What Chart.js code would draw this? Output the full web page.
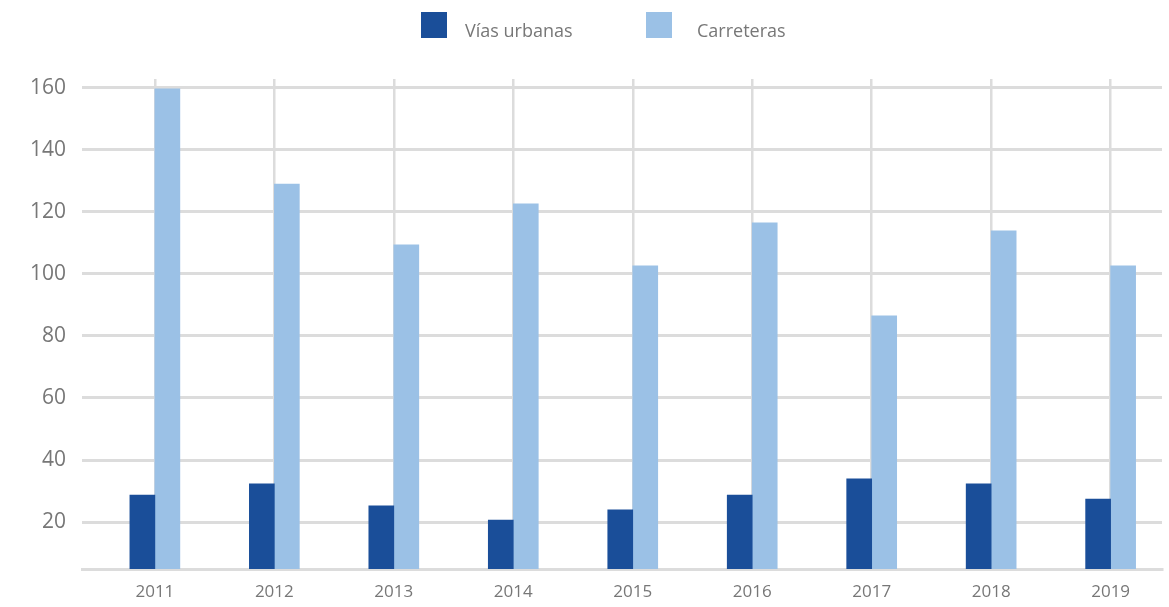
<!doctype html>
<html lang="es">

<head>
    <meta charset="UTF-8" />
    <title>Vías urbanas y carreteras</title>
    <script src="https://cdn.jsdelivr.net/npm/chart.js"></script>
    <style>
        body {
            margin: 0;
            background: #fff;
            font-family: "Open Sans", sans-serif;
        }

        #wrap {
            position: relative;
            width: 1169px;
            height: 607px;
        }

        .leg-item {
            position: absolute;
            top: 12px;
            display: flex;
            align-items: flex-start;
            color: #777;
            font-size: 18px;
            line-height: 26px;
        }

        .leg-box {
            width: 26px;
            height: 26px;
        }

        .leg-text {
            position: relative;
            top: 5px;
        }
    </style>
</head>

<body>
    <div id="wrap">
        <canvas id="myChart" width="1169" height="607"></canvas>
    </div>

    <script>
        // years on the x axis
        const years = [2011, 2012, 2013, 2014, 2015, 2016, 2017, 2018, 2019];

        const urbanas = [28.7, 32.3, 25.2, 20.6, 23.9, 28.7, 33.9, 32.3, 27.4];
        const carreteras = [159.7, 129, 109.4, 122.6, 102.6, 116.5, 86.5, 113.9, 102.6];

        const yTicks = [20, 40, 60, 80, 100, 120, 140, 160];

        const seriesNames = ["Vías urbanas", "Carreteras"];
        const seriesColors = ["#1a4e99", "#9bc1e6"];

        /* legend drawn as html above the canvas */
        const legendLeft = [421, 646];
        const legendGap = [18, 25];
        seriesNames.forEach(function (name, i) {
            let item = document.createElement("div");
            item.className = "leg-item";
            item.style.left = legendLeft[i] + "px";
            item.innerHTML = '<span class="leg-box" style="background:' + seriesColors[i] +
                ';margin-right:' + legendGap[i] + 'px"></span><span class="leg-text">' + name + '</span>';
            document.getElementById("wrap").appendChild(item);
        });

        const gridColor = "#dcdcdc";
        const textColor = "#777";

        const ctx = document.getElementById('myChart');

        new Chart(ctx, {
            type: "bar",
            data: {
                datasets: [urbanas, carreteras].map(function (vals, i) {
                    return {
                        label: seriesNames[i],
                        data: vals.map((v, k) => ({ x: years[k], y: v })),
                        backgroundColor: seriesColors[i],
                        barThickness: 25,
                        borderWidth: 0
                    };
                })
            },
            options: {
                responsive: false,
                animation: false,
                layout: {
                    padding: { top: 79, right: 7, left: 0, bottom: 0 }
                },
                plugins: {
                    legend: { display: false },
                    tooltip: { enabled: false }
                },
                scales: {
                    x: {
                        type: "linear",
                        min: 2010.39,
                        max: 2019.43,
                        offset: false,
                        afterBuildTicks: function (scale) {
                            scale.ticks = years.map(v => ({ value: v }));
                        },
                        afterFit: function (scale) {
                            scale.height = 38;
                        },
                        grid: {
                            color: gridColor,
                            lineWidth: 2.5,
                            offset: false,
                            drawTicks: false
                        },
                        border: {
                            color: gridColor,
                            width: 3
                        },
                        ticks: {
                            color: textColor,
                            padding: 13,
                            font: { family: "Open Sans", size: 17 },
                            callback: v => String(v)
                        }
                    },
                    y: {
                        min: 4.84,
                        max: 162.9,
                        afterBuildTicks: function (scale) {
                            scale.ticks = yTicks.map(v => ({ value: v }));
                        },
                        afterFit: function (scale) {
                            scale.width = 82;
                        },
                        grid: {
                            color: gridColor,
                            lineWidth: 3,
                            drawTicks: false
                        },
                        border: { display: false },
                        ticks: {
                            color: textColor,
                            padding: 16,
                            font: { family: "Open Sans", size: 21 }
                        }
                    }
                }
            }
        });
    </script>
</body>

</html>
